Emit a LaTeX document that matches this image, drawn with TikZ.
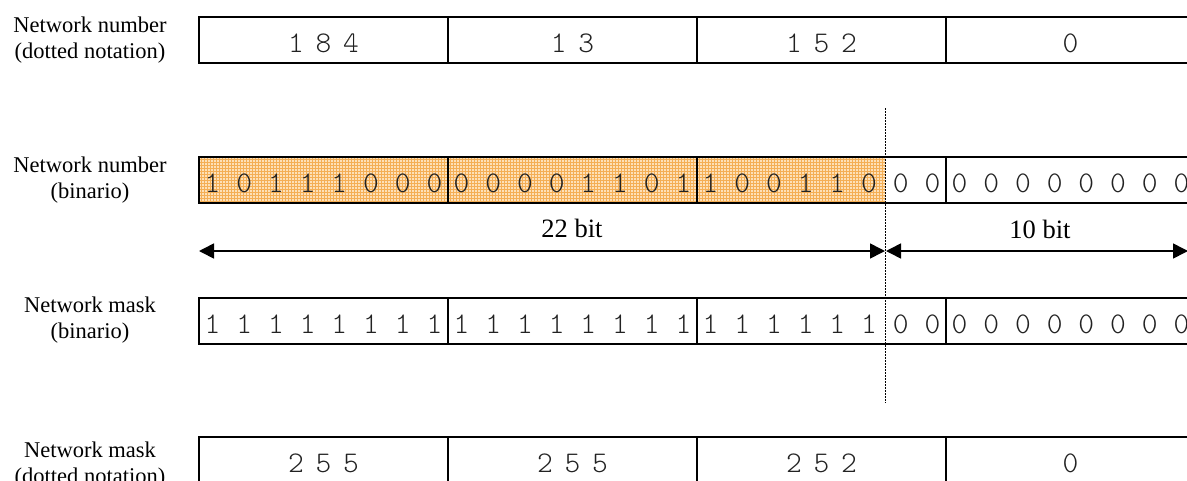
\documentclass[tikz,border=0pt]{standalone}
\usepackage{fontspec}
\newfontfamily\monof{Latin Modern Mono Light}
\newfontfamily\labf{Liberation Serif}
\usetikzlibrary{arrows.meta,patterns}
\definecolor{orfill}{HTML}{FDE0B8}
\definecolor{orline}{HTML}{F4AE55}
\definecolor{digit}{HTML}{222222}
\newcommand\dgap{\hspace{11.75pt}}
\newcommand\bgap{\hspace{15.95pt}}
\begin{document}
\begin{tikzpicture}[x=1pt,y=-1pt,
  seg/.style={draw=black,line width=1.8pt,minimum width=249pt,minimum height=46pt,
    inner sep=0pt,outer sep=0pt,anchor=north west,text height=25pt,text depth=0pt,
    text=digit,font=\monof\fontsize{30}{30}\selectfont},
  lab/.style={align=center,font=\labf\fontsize{22.5}{26}\selectfont,inner sep=0pt},
  bitlab/.style={font=\labf\fontsize{26.5}{30}\selectfont,anchor=base,inner sep=0pt},
  dimline/.style={line width=1.6pt,{Triangle[length=15pt,width=15pt]}-{Triangle[length=15pt,width=15pt]}},
  sepline/.style={line width=1pt,dash pattern=on 1.5pt off 1.5pt}
]
\useasboundingbox (0,0) rectangle (1187,480);
\clip (0,0) rectangle (1187,480);

% orange network part
\fill[fill=orfill,postaction={pattern=grid,pattern color=orline}] (199,157) rectangle (885,203);

% row 1
\node[seg] (r1s1) at (199,17) {1\dgap 8\dgap 4};
\node[seg] (r1s2) at (448,17) {1\dgap 3};
\node[seg] (r1s3) at (697,17) {1\dgap 5\dgap 2};
\node[seg] (r1s4) at (946,17) {0};

% row 2
\node[seg] (r2s1) at (199,157) {1\bgap 0\bgap 1\bgap 1\bgap 1\bgap 0\bgap 0\bgap 0};
\node[seg] (r2s2) at (448,157) {0\bgap 0\bgap 0\bgap 0\bgap 1\bgap 1\bgap 0\bgap 1};
\node[seg] (r2s3) at (697,157) {1\bgap 0\bgap 0\bgap 1\bgap 1\bgap 0\bgap 0\bgap 0};
\node[seg] (r2s4) at (946,157) {0\bgap 0\bgap 0\bgap 0\bgap 0\bgap 0\bgap 0\bgap 0};

% row 3
\node[seg] (r3s1) at (199,298) {1\bgap 1\bgap 1\bgap 1\bgap 1\bgap 1\bgap 1\bgap 1};
\node[seg] (r3s2) at (448,298) {1\bgap 1\bgap 1\bgap 1\bgap 1\bgap 1\bgap 1\bgap 1};
\node[seg] (r3s3) at (697,298) {1\bgap 1\bgap 1\bgap 1\bgap 1\bgap 1\bgap 0\bgap 0};
\node[seg] (r3s4) at (946,298) {0\bgap 0\bgap 0\bgap 0\bgap 0\bgap 0\bgap 0\bgap 0};

% row 4
\node[seg] (r4s1) at (199,437) {2\dgap 5\dgap 5};
\node[seg] (r4s2) at (448,437) {2\dgap 5\dgap 5};
\node[seg] (r4s3) at (697,437) {2\dgap 5\dgap 2};
\node[seg] (r4s4) at (946,437) {0};

% labels
\node[lab] (l1) at (90,40.5) {Network number\\(dotted notation)};
\node[lab] (l2) at (90,180.5) {Network number\\(binario)};
\node[lab] (l3) at (90,320.5) {Network mask\\(binario)};
\node[lab] (l4) at (90,465.5) {Network mask\\(dotted notation)};

% separator
\coordinate (dtop) at (885,108);
\coordinate (dbot) at (885,403);
\draw[sepline] (dtop) -- (dbot);

% dimension arrows
\coordinate (aL) at (199,251);
\coordinate (aM1) at (885,251);
\coordinate (aM2) at (886,251);
\coordinate (aR) at (1188,251);
\draw[dimline] (aL) -- (aM1);
\draw[dimline] (aM2) -- (aR);
\node[bitlab] (b22) at (572,237) {22 bit};
\node[bitlab] (b10) at (1040,238) {10 bit};
\end{tikzpicture}
\end{document}
